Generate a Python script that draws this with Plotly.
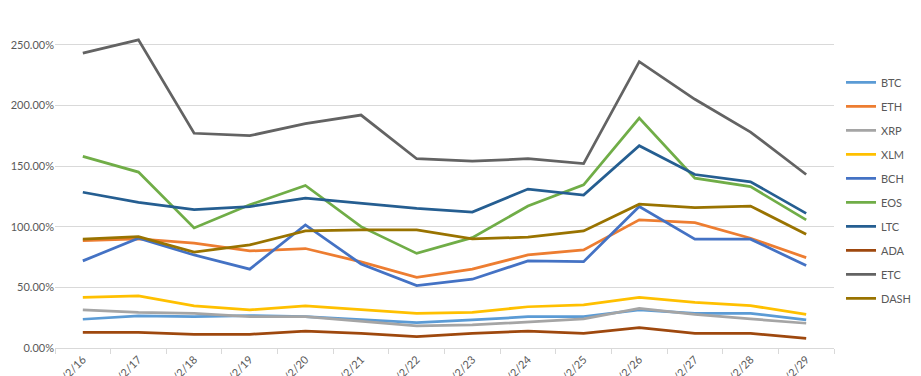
import plotly.graph_objects as go

dates = ["2018/2/16", "2018/2/17", "2018/2/18", "2018/2/19", "2018/2/20", "2018/2/21", "2018/2/22",
         "2018/2/23", "2018/2/24", "2018/2/25", "2018/2/26", "2018/2/27", "2018/2/28", "2018/2/29"]

btc = [0.237, 0.264, 0.258, 0.267, 0.258, 0.231, 0.209, 0.231, 0.258, 0.258, 0.314, 0.286, 0.286, 0.231]
eth = [0.886, 0.900, 0.864, 0.800, 0.820, 0.710, 0.583, 0.650, 0.767, 0.809, 1.056, 1.034, 0.905, 0.745]
xrp = [0.314, 0.294, 0.286, 0.258, 0.258, 0.217, 0.182, 0.190, 0.217, 0.240, 0.327, 0.278, 0.240, 0.204]
xlm = [0.418, 0.429, 0.347, 0.314, 0.347, 0.319, 0.286, 0.294, 0.340, 0.355, 0.418, 0.377, 0.349, 0.278]
bch = [0.718, 0.905, 0.767, 0.650, 1.015, 0.693, 0.514, 0.567, 0.718, 0.712, 1.166, 0.897, 0.897, 0.680]
eos = [1.580, 1.450, 0.990, 1.180, 1.340, 1.000, 0.780, 0.910, 1.170, 1.345, 1.895, 1.400, 1.330, 1.056]
ltc = [1.284, 1.200, 1.140, 1.166, 1.235, 1.190, 1.150, 1.120, 1.310, 1.260, 1.667, 1.430, 1.370, 1.110]
ada = [0.129, 0.129, 0.113, 0.113, 0.140, 0.121, 0.093, 0.121, 0.140, 0.121, 0.168, 0.121, 0.121, 0.080]
etc = [2.430, 2.540, 1.770, 1.750, 1.850, 1.920, 1.560, 1.540, 1.560, 1.520, 2.360, 2.050, 1.780, 1.430]
dash = [0.897, 0.918, 0.790, 0.850, 0.965, 0.974, 0.974, 0.900, 0.913, 0.965, 1.185, 1.158, 1.170, 0.938]

series = [
    ("BTC", btc, "#5B9BD5"),
    ("ETH", eth, "#ED7D31"),
    ("XRP", xrp, "#A5A5A5"),
    ("XLM", xlm, "#FFC000"),
    ("BCH", bch, "#4472C4"),
    ("EOS", eos, "#70AD47"),
    ("LTC", ltc, "#255E91"),
    ("ADA", ada, "#9E480E"),
    ("ETC", etc, "#636363"),
    ("DASH", dash, "#997300"),
]

fig = go.Figure()
for name, vals, color in series:
    fig.add_trace(go.Scatter(
        x=dates, y=vals, name=name, mode="lines", legendgroup=name,
        line=dict(color=color, width=2.75),
    ))

fig.update_layout(
    width=913, height=368,
    margin=dict(l=47, r=87, t=27, b=28, autoexpand=False),
    paper_bgcolor="white", plot_bgcolor="white",
    font=dict(family="Lato, 'Liberation Sans', sans-serif", size=11, color="#595959"),
    legend=dict(x=1.009, y=0.895, xanchor="left", yanchor="top",
                traceorder="grouped", tracegroupgap=5,
                font=dict(size=11, color="#595959"), itemwidth=30),
    xaxis=dict(type="category", tickangle=-45, showgrid=False, range=[-0.5, 13.5],
               showline=True, linecolor="#D9D9D9", linewidth=1,
               ticks="outside", tickson="boundaries", ticklen=5, tickcolor="#D9D9D9",
               tickfont=dict(size=11, color="#595959"), automargin=False),
    yaxis=dict(range=[0, 2.58], dtick=0.5, tick0=0, tickformat=".2%",
               showgrid=True, gridcolor="#D9D9D9", gridwidth=1,
               zeroline=False, showline=False, ticks="",
               tickfont=dict(size=11, color="#595959"), automargin=False),
)

fig.write_html("out.html")
